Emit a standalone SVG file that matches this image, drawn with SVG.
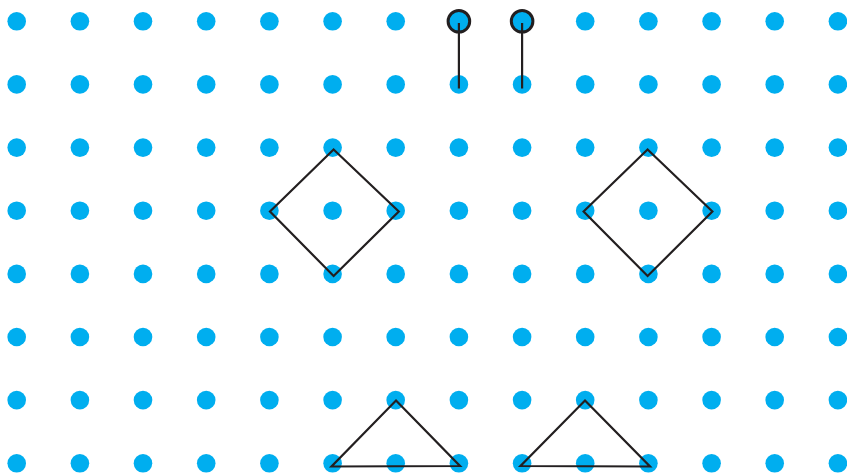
<svg xmlns="http://www.w3.org/2000/svg" width="847" height="474" viewBox="0 0 847 474">
<style>
.d{fill:#00AEEF}
.h{fill:#00AEEF;stroke:#231F20;stroke-width:3}
.ln{fill:none;stroke:#231F20;stroke-width:2.2;stroke-linejoin:miter}
</style>
<defs><circle id="dot" r="9.3" class="d"/></defs>
<rect width="847" height="474" fill="#fff"/>
<g id="grid">
<g id="row0"><use href="#dot" x="16.7" y="21.3"/><use href="#dot" x="79.9" y="21.3"/><use href="#dot" x="143" y="21.3"/><use href="#dot" x="206.2" y="21.3"/><use href="#dot" x="269.4" y="21.3"/><use href="#dot" x="332.6" y="21.3"/><use href="#dot" x="395.7" y="21.3"/><use href="#dot" x="585.2" y="21.3"/><use href="#dot" x="648.4" y="21.3"/><use href="#dot" x="711.6" y="21.3"/><use href="#dot" x="774.7" y="21.3"/><use href="#dot" x="837.9" y="21.3"/></g>
<g id="row1"><use href="#dot" x="16.7" y="84.4"/><use href="#dot" x="79.9" y="84.4"/><use href="#dot" x="143" y="84.4"/><use href="#dot" x="206.2" y="84.4"/><use href="#dot" x="269.4" y="84.4"/><use href="#dot" x="332.6" y="84.4"/><use href="#dot" x="395.7" y="84.4"/><use href="#dot" x="458.9" y="84.4"/><use href="#dot" x="522.1" y="84.4"/><use href="#dot" x="585.2" y="84.4"/><use href="#dot" x="648.4" y="84.4"/><use href="#dot" x="711.6" y="84.4"/><use href="#dot" x="774.7" y="84.4"/><use href="#dot" x="837.9" y="84.4"/></g>
<g id="row2"><use href="#dot" x="16.7" y="147.6"/><use href="#dot" x="79.9" y="147.6"/><use href="#dot" x="143" y="147.6"/><use href="#dot" x="206.2" y="147.6"/><use href="#dot" x="269.4" y="147.6"/><use href="#dot" x="332.6" y="147.6"/><use href="#dot" x="395.7" y="147.6"/><use href="#dot" x="458.9" y="147.6"/><use href="#dot" x="522.1" y="147.6"/><use href="#dot" x="585.2" y="147.6"/><use href="#dot" x="648.4" y="147.6"/><use href="#dot" x="711.6" y="147.6"/><use href="#dot" x="774.7" y="147.6"/><use href="#dot" x="837.9" y="147.6"/></g>
<g id="row3"><use href="#dot" x="16.7" y="210.7"/><use href="#dot" x="79.9" y="210.7"/><use href="#dot" x="143" y="210.7"/><use href="#dot" x="206.2" y="210.7"/><use href="#dot" x="269.4" y="210.7"/><use href="#dot" x="332.6" y="210.7"/><use href="#dot" x="395.7" y="210.7"/><use href="#dot" x="458.9" y="210.7"/><use href="#dot" x="522.1" y="210.7"/><use href="#dot" x="585.2" y="210.7"/><use href="#dot" x="648.4" y="210.7"/><use href="#dot" x="711.6" y="210.7"/><use href="#dot" x="774.7" y="210.7"/><use href="#dot" x="837.9" y="210.7"/></g>
<g id="row4"><use href="#dot" x="16.7" y="273.9"/><use href="#dot" x="79.9" y="273.9"/><use href="#dot" x="143" y="273.9"/><use href="#dot" x="206.2" y="273.9"/><use href="#dot" x="269.4" y="273.9"/><use href="#dot" x="332.6" y="273.9"/><use href="#dot" x="395.7" y="273.9"/><use href="#dot" x="458.9" y="273.9"/><use href="#dot" x="522.1" y="273.9"/><use href="#dot" x="585.2" y="273.9"/><use href="#dot" x="648.4" y="273.9"/><use href="#dot" x="711.6" y="273.9"/><use href="#dot" x="774.7" y="273.9"/><use href="#dot" x="837.9" y="273.9"/></g>
<g id="row5"><use href="#dot" x="16.7" y="337"/><use href="#dot" x="79.9" y="337"/><use href="#dot" x="143" y="337"/><use href="#dot" x="206.2" y="337"/><use href="#dot" x="269.4" y="337"/><use href="#dot" x="332.6" y="337"/><use href="#dot" x="395.7" y="337"/><use href="#dot" x="458.9" y="337"/><use href="#dot" x="522.1" y="337"/><use href="#dot" x="585.2" y="337"/><use href="#dot" x="648.4" y="337"/><use href="#dot" x="711.6" y="337"/><use href="#dot" x="774.7" y="337"/><use href="#dot" x="837.9" y="337"/></g>
<g id="row6"><use href="#dot" x="16.7" y="400.1"/><use href="#dot" x="79.9" y="400.1"/><use href="#dot" x="143" y="400.1"/><use href="#dot" x="206.2" y="400.1"/><use href="#dot" x="269.4" y="400.1"/><use href="#dot" x="332.6" y="400.1"/><use href="#dot" x="395.7" y="400.1"/><use href="#dot" x="458.9" y="400.1"/><use href="#dot" x="522.1" y="400.1"/><use href="#dot" x="585.2" y="400.1"/><use href="#dot" x="648.4" y="400.1"/><use href="#dot" x="711.6" y="400.1"/><use href="#dot" x="774.7" y="400.1"/><use href="#dot" x="837.9" y="400.1"/></g>
<g id="row7"><use href="#dot" x="16.7" y="463.3"/><use href="#dot" x="79.9" y="463.3"/><use href="#dot" x="143" y="463.3"/><use href="#dot" x="206.2" y="463.3"/><use href="#dot" x="269.4" y="463.3"/><use href="#dot" x="332.6" y="463.3"/><use href="#dot" x="395.7" y="463.3"/><use href="#dot" x="458.9" y="463.3"/><use href="#dot" x="522.1" y="463.3"/><use href="#dot" x="585.2" y="463.3"/><use href="#dot" x="648.4" y="463.3"/><use href="#dot" x="711.6" y="463.3"/><use href="#dot" x="774.7" y="463.3"/><use href="#dot" x="837.9" y="463.3"/></g>
</g>
<g id="pin1"><circle class="h" cx="458.9" cy="21.3" r="10.8"/><line class="ln" x1="458.9" y1="23" x2="458.9" y2="88.5"/></g>
<g id="pin2"><circle class="h" cx="522.1" cy="21.3" r="10.8"/><line class="ln" x1="522.1" y1="23" x2="522.1" y2="88.5"/></g>
<g id="diamond1"><polygon class="ln" points="333.6,149.5 398.8,211.5 333.6,276 270,211.5"/></g>
<g id="diamond2"><polygon class="ln" points="647.6,149.5 712.4,211.5 647.6,276 583.6,211.5"/></g>
<g id="triangle1"><polygon class="ln" points="396,400.5 460,466 331.5,466.5"/></g>
<g id="triangle2"><polygon class="ln" points="585,400.5 650,466.5 520.5,466"/></g>
</svg>
